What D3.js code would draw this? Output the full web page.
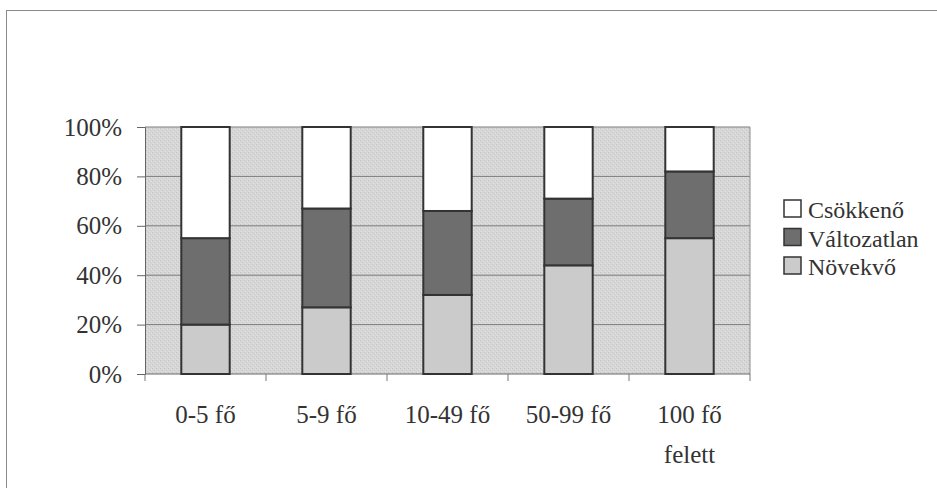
<!DOCTYPE html>
<html>
<head>
<meta charset="utf-8">
<script src="https://cdn.jsdelivr.net/npm/d3@7"></script>
<style>
body{margin:0;background:#fff;}
svg{display:block;}
</style>
</head>
<body>
<svg id="chart" width="937" height="488"></svg>
<script>
const categories = ["0-5 fő", "5-9 fő", "10-49 fő", "50-99 fő", "100 fő felett"];
const seriesNames = ["Növekvő", "Változatlan", "Csökkenő"];
const novekvo = [20, 27, 32, 44, 55];
const valtozatlan = [35, 40, 34, 27, 27];
const csokkeno = [45, 33, 34, 29, 18];
const yTicks = [0, 20, 40, 60, 80, 100];
const colors = {"Növekvő": "#cbcbcb", "Változatlan": "#6e6e6e", "Csökkenő": "#ffffff"};
const FONT = "'Liberation Serif', 'DejaVu Serif', serif";

const rows = categories.map((c, i) => ({cat: c, "Növekvő": novekvo[i], "Változatlan": valtozatlan[i], "Csökkenő": csokkeno[i]}));

const svg = d3.select("#chart");
const defs = svg.append("defs");
const pat = defs.append("pattern").attr("id", "speck").attr("patternUnits", "userSpaceOnUse")
  .attr("width", 4).attr("height", 4);
pat.append("rect").attr("width", 4).attr("height", 4).attr("fill", "#d6d6d6");
pat.append("rect").attr("x", 0).attr("y", 0).attr("width", 1).attr("height", 1).attr("fill", "#c4c4c4");
pat.append("rect").attr("x", 2).attr("y", 2).attr("width", 1).attr("height", 1).attr("fill", "#c8c8c8");
pat.append("rect").attr("x", 1).attr("y", 3).attr("width", 1).attr("height", 1).attr("fill", "#e4e4e4");
pat.append("rect").attr("x", 3).attr("y", 1).attr("width", 1).attr("height", 1).attr("fill", "#e2e2e2");

// outer frame
svg.append("rect").attr("x", 6.5).attr("y", 10.5).attr("width", 950).attr("height", 500)
  .attr("fill", "none").attr("stroke", "#8a8a8a").attr("stroke-width", 1);

const L = 145, R = 750, T = 127, B = 374;
const x = d3.scaleBand().domain(categories).range([L, R]).paddingInner(0.6).paddingOuter(0.3);
const y = d3.scaleLinear().domain([0, 100]).range([B, T]);

// plot background
svg.append("rect").attr("x", L).attr("y", T).attr("width", R - L).attr("height", B - T).attr("fill", "url(#speck)");

// gridlines
svg.append("g").selectAll("line").data(yTicks.filter(d => d > 0)).join("line")
  .attr("x1", L).attr("x2", R).attr("y1", d => y(d)).attr("y2", d => y(d))
  .attr("stroke", "#7c7c7c").attr("stroke-width", 1);
svg.append("line").attr("x1", R).attr("x2", R).attr("y1", T).attr("y2", B).attr("stroke", "#8c8c8c");

// y axis
const yAxis = svg.append("g").attr("transform", `translate(${L},0)`)
  .call(d3.axisLeft(y).tickValues(yTicks).tickFormat(d => d + "%").tickSize(8).tickPadding(15));
yAxis.attr("font-family", null);
yAxis.select(".domain").attr("stroke", "#666");
yAxis.selectAll(".tick line").attr("stroke", "#666");
yAxis.selectAll("text").style("font-family", FONT).style("font-size", "25px").attr("fill", "#333");

// x axis (ticks at category boundaries)
const bounds = d3.range(categories.length + 1).map(i => L + i * (R - L) / categories.length);
svg.append("line").attr("x1", L).attr("x2", R).attr("y1", B).attr("y2", B).attr("stroke", "#666");
svg.append("g").selectAll("line").data(bounds).join("line")
  .attr("x1", d => d).attr("x2", d => d).attr("y1", B).attr("y2", B + 7).attr("stroke", "#777");

const xl = svg.append("g").selectAll("text").data(categories).join("text")
  .attr("x", d => x(d) + x.bandwidth() / 2).attr("y", 423)
  .attr("text-anchor", "middle").style("font-family", FONT).style("font-size", "25px").attr("fill", "#333");
xl.each(function(d) {
  const t = d3.select(this);
  if (d === "100 fő felett") {
    t.append("tspan").attr("x", t.attr("x")).text("100 fő");
    t.append("tspan").attr("x", t.attr("x")).attr("dy", 40).text("felett");
  } else t.text(d);
});

// stacked bars
const stack = d3.stack().keys(seriesNames)(rows);
svg.append("g").selectAll("g").data(stack).join("g")
  .attr("fill", d => colors[d.key])
  .selectAll("rect").data(d => d).join("rect")
  .attr("x", d => x(d.data.cat)).attr("width", x.bandwidth())
  .attr("y", d => y(d[1])).attr("height", d => y(d[0]) - y(d[1]))
  .attr("stroke", "#333").attr("stroke-width", 2);

// legend
const legendItems = ["Csökkenő", "Változatlan", "Növekvő"];
const lg = svg.append("g").selectAll("g").data(legendItems).join("g")
  .attr("transform", (d, i) => `translate(784,${200 + i * 28.5})`);
lg.append("rect").attr("width", 17).attr("height", 17).attr("fill", d => colors[d])
  .attr("stroke", "#333").attr("stroke-width", 1.5);
lg.append("text").attr("x", 24).attr("y", 18).style("font-family", FONT).style("font-size", "24px")
  .attr("fill", "#333").text(d => d);
</script>
</body>
</html>
